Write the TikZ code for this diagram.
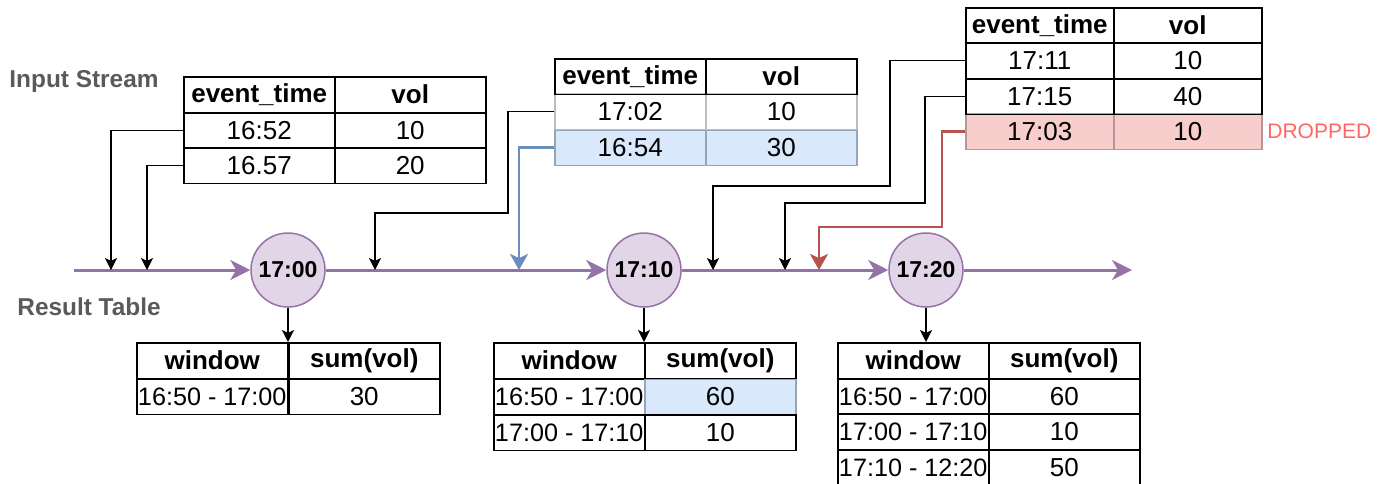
\documentclass[tikz,border=0pt]{standalone}
\usepackage{fontspec}
\setmainfont{Liberation Sans}
\usepackage{tikz}
\usetikzlibrary{arrows.meta}
\definecolor{mypurple}{RGB}{150,115,166}
\definecolor{hdrpurple}{RGB}{225,213,231}
\definecolor{myblue}{RGB}{108,142,191}
\definecolor{hdrblue}{RGB}{218,232,252}
\definecolor{bluedge}{RGB}{150,165,185}
\definecolor{myred}{RGB}{184,84,80}
\definecolor{hdrred}{RGB}{248,206,204}
\definecolor{rededge}{RGB}{185,150,150}
\definecolor{mygrey}{RGB}{190,190,190}
\definecolor{mylabel}{RGB}{90,90,90}
\definecolor{mydrop}{RGB}{255,102,102}
\tikzset{
  cell/.style={rectangle, draw=black, anchor=north west,
    minimum width=75.5pt, minimum height=17.75pt, inner sep=0pt,
    font=\fontsize{13}{15}\selectfont, line width=0.75pt},
  hcell/.style={cell, font=\fontsize{13}{15}\selectfont\bfseries},
  wcell/.style={cell, font=\fontsize{12.6}{15}\selectfont},
  greycell/.style={cell, draw=mygrey},
  bluecell/.style={cell, draw=bluedge, fill=hdrblue},
  redcell/.style={cell, draw=rededge, fill=hdrred},
  narrow/.style={minimum width=74pt},
  tnode/.style={circle, draw=mypurple, fill=hdrpurple, minimum size=37pt,
    inner sep=0pt, font=\fontsize{11.5}{13}\selectfont\bfseries, line width=0.75pt},
  sectitle/.style={anchor=west, inner sep=0pt, text=mylabel, font=\fontsize{12.2}{14}\selectfont\bfseries},
  arrow/.style={-{Stealth[length=6pt, width=6pt, inset=1.5pt]}, line width=0.6pt, color=black},
  bluearrow/.style={-{Stealth[length=8pt, width=9pt, inset=2pt]}, line width=1.2pt, color=myblue},
  redarrow/.style={-{Stealth[length=8pt, width=9pt, inset=2pt]}, line width=1.2pt, color=myred},
  timeline/.style={-{Stealth[length=10pt, width=10pt, inset=3pt]}, line width=1.5pt, color=mypurple}
}

\begin{document}
\begin{tikzpicture}[x=0.5pt, y=-0.5pt]
  \useasboundingbox (0,0) rectangle (1393,483);

  % Titles
  \node[sectitle] (instream) at (9, 82) {Input Stream};
  \node[sectitle] (restable) at (17, 307) {Result Table};

  % Input table 1
  \node[cell] (t1r1a) at (183, 112) {16:52};
  \node[cell] (t1r1b) at (334, 112) {10};
  \node[cell] (t1r2a) at (183, 147) {16.57};
  \node[cell] (t1r2b) at (334, 147) {20};
  \node[hcell] (t1h1) at (183, 76) {event\_time};
  \node[hcell] (t1h2) at (334, 76) {vol};

  % Input table 2
  \node[bluecell] (t2r2a) at (554, 129) {16:54};
  \node[bluecell] (t2r2b) at (705, 129) {30};
  \node[greycell] (t2r1a) at (554, 93) {17:02};
  \node[greycell] (t2r1b) at (705, 93) {10};
  \node[hcell] (t2h1) at (554, 58) {event\_time};
  \node[hcell] (t2h2) at (705, 58) {vol};

  % Input table 3
  \node[redcell, narrow] (t3r3a) at (965, 113) {17:03};
  \node[redcell, narrow] (t3r3b) at (1113, 113) {10};
  \node[cell, narrow] (t3r1a) at (965, 42) {17:11};
  \node[cell, narrow] (t3r1b) at (1113, 42) {10};
  \node[cell, narrow] (t3r2a) at (965, 78) {17:15};
  \node[cell, narrow] (t3r2b) at (1113, 78) {40};
  \node[hcell, narrow] (t3h1) at (965, 7) {event\_time};
  \node[hcell, narrow] (t3h2) at (1113, 7) {vol};
  \node[anchor=west, inner sep=0pt, text=mydrop, font=\fontsize{10.5}{12}\selectfont] (dropped) at (1267, 131) {DROPPED};

  % Trigger points
  \node[tnode] (c1) at (288, 270) {17:00};
  \node[tnode] (c2) at (644, 270) {17:10};
  \node[tnode] (c3) at (926, 270) {17:20};
  \coordinate (ts) at (74, 270);
  \coordinate (te) at (1132, 270);

  % Timeline
  \draw[timeline] (ts) -- (c1);
  \draw[timeline] (c1) -- (c2);
  \draw[timeline] (c2) -- (c3);
  \draw[timeline] (c3) -- (te);

  % Arrival points
  \coordinate (in1) at (111, 270);
  \coordinate (in2) at (147, 270);
  \coordinate (in3) at (375, 270);
  \coordinate (in4) at (519, 270);
  \coordinate (in5) at (713, 270);
  \coordinate (in6) at (785, 270);
  \coordinate (in7) at (819, 270);

  % Arrivals
  \draw[arrow] (t1r1a.west) -| (in1);
  \draw[arrow] (t1r2a.west) -| (in2);
  \draw[arrow] (t2r1a.west) -| (508, 213) -| (in3);
  \draw[bluearrow] (t2r2a.west) -| (in4);
  \draw[arrow] (t3r1a.west) -| (890, 186) -| (in5);
  \draw[arrow] (t3r2a.west) -| (925, 203) -| (in6);
  \draw[redarrow] (t3r3a.west) -| (942, 227) -| (in7);

  % Result table 1
  \node[wcell] (tAr1a) at (136, 378) {16:50 - 17:00};
  \node[cell] (tAr1b) at (288, 378) {30};
  \node[hcell] (tAh1) at (136, 342) {window};
  \node[hcell] (tAh2) at (288, 342) {sum(vol)};

  % Result table 2
  \node[wcell] (tBr1a) at (493, 378) {16:50 - 17:00};
  \node[bluecell] (tBr1b) at (644, 378) {60};
  \node[wcell] (tBr2a) at (493, 414) {17:00 - 17:10};
  \node[cell] (tBr2b) at (644, 414) {10};
  \node[hcell] (tBh1) at (493, 342) {window};
  \node[hcell] (tBh2) at (644, 342) {sum(vol)};

  % Result table 3
  \node[wcell] (tCr1a) at (837, 378) {16:50 - 17:00};
  \node[cell] (tCr1b) at (988, 378) {60};
  \node[wcell] (tCr2a) at (837, 413) {17:00 - 17:10};
  \node[cell] (tCr2b) at (988, 413) {10};
  \node[wcell] (tCr3a) at (837, 449) {17:10 - 12:20};
  \node[cell] (tCr3b) at (988, 449) {50};
  \node[hcell] (tCh1) at (837, 342) {window};
  \node[hcell] (tCh2) at (988, 342) {sum(vol)};

  % Outputs
  \draw[arrow] (c1) -- (c1 |- tAh1.north);
  \draw[arrow] (c2) -- (c2 |- tBh1.north);
  \draw[arrow] (c3) -- (c3 |- tCh1.north);
\end{tikzpicture}
\end{document}
